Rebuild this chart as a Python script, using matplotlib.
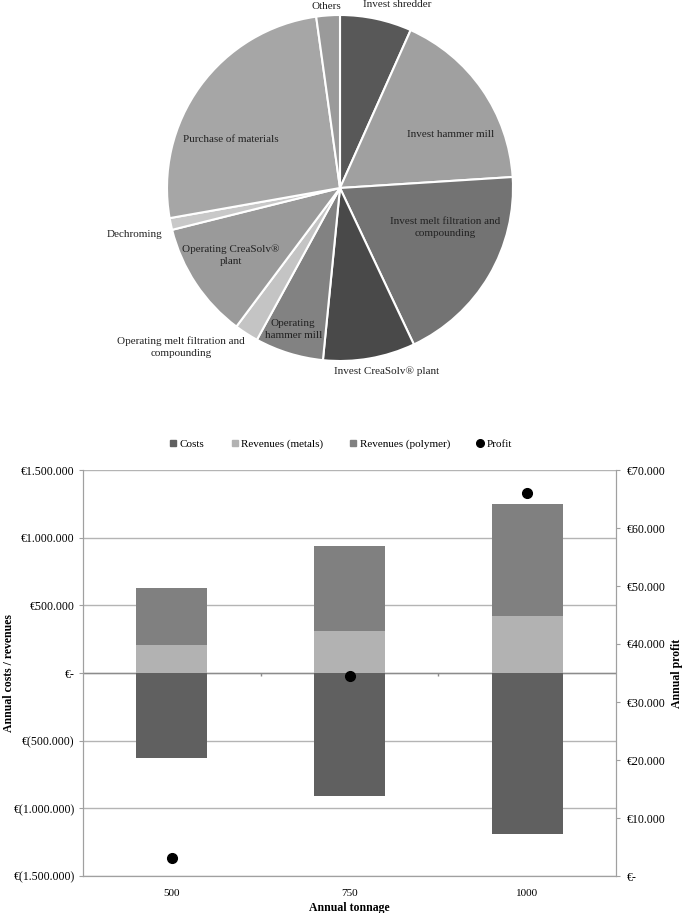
import matplotlib.pyplot as plt
from matplotlib.lines import Line2D
from matplotlib.ticker import FuncFormatter

plt.rcParams['font.family'] = ['Liberation Serif', 'DejaVu Serif']

# Pie chart: cost shares (%)
pie_labels = ["Invest shredder", "Invest hammer mill",
              "Invest melt filtration and\ncompounding", "Invest CreaSolv® plant",
              "Operating\nhammer mill", "Operating melt filtration and\ncompounding",
              "Operating CreaSolv®\nplant", "Dechroming", "Purchase of materials", "Others"]
pie_values = [6.7, 17.3, 19.0, 8.6, 6.4, 2.25, 10.9, 1.1, 25.6, 2.2]
pie_colors = ["#585858", "#a0a0a0", "#737373", "#494949", "#828282",
              "#c4c4c4", "#9a9a9a", "#c8c8c8", "#a6a6a6", "#9a9a9a"]
# label placement in pie units (radius 1)
label_pos = [(0.33, 1.06), (0.64, 0.31), (0.61, -0.23), (0.27, -1.06), (-0.27, -0.82),
             (-0.92, -0.92), (-0.63, -0.39), (-1.19, -0.27), (-0.63, 0.28), (-0.08, 1.05)]

# Bar chart: annual costs / revenues and profit
tonnage = ["500", "750", "1000"]
costs = [-624600, -907000, -1189600]
rev_metals = [206000, 309700, 418000]
rev_polymer = [418600, 626900, 833000]
profit = [3050, 34500, 66000]

fig = plt.figure(figsize=(6.85, 9.13), dpi=100)

# ---- pie ----
W, H = 685, 913
cx, cy, r = 340, 188, 173
ax1 = fig.add_axes([(cx - r) / W, (H - cy - r) / H, 2 * r / W, 2 * r / H])
ax1.pie(pie_values, colors=pie_colors, startangle=90, counterclock=False,
        wedgeprops=dict(edgecolor="white", linewidth=1.5))
ax1.set_xlim(-1, 1)
ax1.set_ylim(-1, 1)
for lab, (x, y) in zip(pie_labels, label_pos):
    ax1.text(x, y, lab, ha="center", va="center", fontsize=8, color="#222222",
             linespacing=1.45)

# ---- bars ----
ax2 = fig.add_axes([83 / W, (H - 876) / H, (616 - 83) / W, (876 - 470) / H])
xs = list(range(len(tonnage)))
ax2.bar(xs, costs, width=0.4, color="#606060", zorder=3)
ax2.bar(xs, rev_metals, width=0.4, color="#b2b2b2", zorder=3)
ax2.bar(xs, rev_polymer, width=0.4, bottom=rev_metals, color="#808080", zorder=3)
ax2.set_xlim(-0.5, 2.5)
ax2.set_ylim(-1500000, 1500000)
ax2.set_yticks(range(-1500000, 1500001, 500000))
ax2.set_xticks(xs)
ax2.set_xticklabels(tonnage)
ax2.grid(axis="y", color="#b4b4b4", linewidth=1, zorder=0)
ax2.axhline(0, color="#8c8c8c", linewidth=1, zorder=2)
# small category separators on the zero line
ax2.vlines([i + 0.5 for i in xs[:-1]], -25000, 0, color="#8c8c8c", linewidth=1, zorder=2)


def eur(v, pos=None):
    v = int(round(v))
    if v == 0:
        return "€-"
    s = f"{abs(v):,}".replace(",", ".")
    return f"€({s})" if v < 0 else f"€{s}"


ax2.yaxis.set_major_formatter(FuncFormatter(eur))
ax2.tick_params(axis="x", length=0, labelsize=8, pad=9)
ax2.tick_params(axis="y", length=3, color="#a0a0a0", labelsize=8.5, pad=3)
ax2.spines["top"].set_visible(False)
for s in ["left", "right", "bottom"]:
    ax2.spines[s].set_color("#a0a0a0")
ax2.set_ylabel("Annual costs / revenues", fontsize=8.5, fontweight="bold", va="center")
ax2.yaxis.set_label_coords((9 - 83) / 533, 0.5)
ax2.set_xlabel("Annual tonnage", fontsize=8.5, fontweight="bold", labelpad=3)

ax3 = ax2.twinx()
ax3.plot(xs, profit, "o", color="black", markersize=7, zorder=5)
ax3.set_ylim(0, 70000)
ax3.set_yticks(range(0, 70001, 10000))
ax3.yaxis.set_major_formatter(FuncFormatter(eur))
ax3.tick_params(axis="y", length=3, color="#a0a0a0", labelsize=8.5, pad=5)
ax3.spines["top"].set_visible(False)
for s in ["left", "right", "bottom"]:
    ax3.spines[s].set_color("#a0a0a0")
ax3.set_ylabel("Annual profit", fontsize=8.5, fontweight="bold", va="center")
ax3.yaxis.set_label_coords((677 - 83) / 533, 0.5)

handles = [Line2D([], [], marker="s", linestyle="", color="#606060", markersize=5),
           Line2D([], [], marker="s", linestyle="", color="#b2b2b2", markersize=5),
           Line2D([], [], marker="s", linestyle="", color="#808080", markersize=5),
           Line2D([], [], marker="o", linestyle="", color="black", markersize=5.5)]
fig.legend(handles, ["Costs", "Revenues (metals)", "Revenues (polymer)", "Profit"],
           loc="center", bbox_to_anchor=(340 / W, (H - 444) / H), ncol=4, frameon=False,
           fontsize=8, handletextpad=0.1, columnspacing=2.2, handlelength=1)

fig.savefig("out.png", dpi=100)
